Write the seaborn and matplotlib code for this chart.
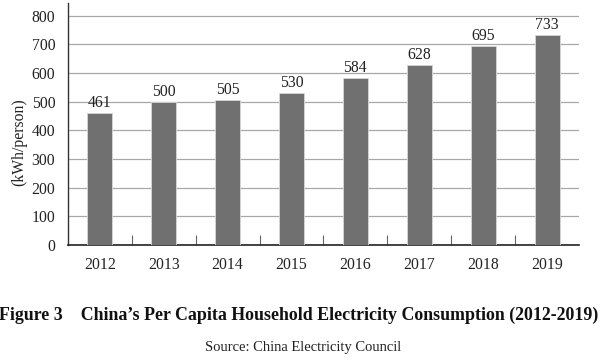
import numpy as np
import pandas as pd
import seaborn as sns
import matplotlib
import matplotlib.pyplot as plt

matplotlib.use('Agg')

years = ['2012', '2013', '2014', '2015', '2016', '2017', '2018', '2019']
consumption = [461, 500, 505, 530, 584, 628, 695, 733]
yticks = [0, 100, 200, 300, 400, 500, 600, 700, 800]

df = pd.DataFrame({'year': years, 'kwh': consumption})

sns.set_style('white')
plt.rcParams['font.family'] = ['Liberation Serif', 'DejaVu Serif']

fig = plt.figure(figsize=(6.0, 3.64), dpi=100)
ax = fig.add_axes([0.113, 0.327, 0.852, 0.665])

sns.barplot(data=df, x='year', y='kwh', color='#707070', width=0.39,
            saturation=1, edgecolor='#d8d8d8', linewidth=0.6, ax=ax, zorder=3)

for i, v in enumerate(consumption):
    ax.text(i, v + 7, str(v), ha='center', va='bottom', fontsize=11.3, color='#222222')

ax.set_ylim(0, 845)
ax.set_xlim(-0.5, len(years) - 0.5)
ax.set_yticks(yticks)
ax.yaxis.grid(True, color='#a8a8a8', linewidth=0.9, zorder=0)
ax.set_axisbelow(True)
ax.tick_params(axis='y', length=0, pad=9, labelsize=11.3, colors='#222222')
ax.tick_params(axis='x', length=0, pad=9, labelsize=11.3, colors='#222222')
# short inward ticks between categories
ax.set_xticks(np.arange(0.5, len(years) - 1, 1), minor=True)
ax.tick_params(axis='x', which='minor', bottom=True, direction='in', length=7,
               width=0.8, color='#666666')

for s in ['top', 'right']:
    ax.spines[s].set_visible(False)
ax.spines['left'].set_color('#333333')
ax.spines['bottom'].set_color('#222222')
ax.spines['left'].set_linewidth(1.0)
ax.spines['bottom'].set_linewidth(1.2)

ax.set_xlabel('')
ax.set_ylabel('(kWh/person)', fontsize=11.3, color='#222222')
ax.yaxis.set_label_coords(-0.079, 0.426)

fig.text(0.498, 0.135, 'Figure 3    China\u2019s Per Capita Household Electricity Consumption (2012-2019)',
         ha='center', va='center', fontsize=12.9, fontweight='bold', color='#111111')
fig.text(0.505, 0.045, 'Source: China Electricity Council', ha='center', va='center',
         fontsize=10.5, color='#222222')

fig.savefig('out.png', dpi=100)
